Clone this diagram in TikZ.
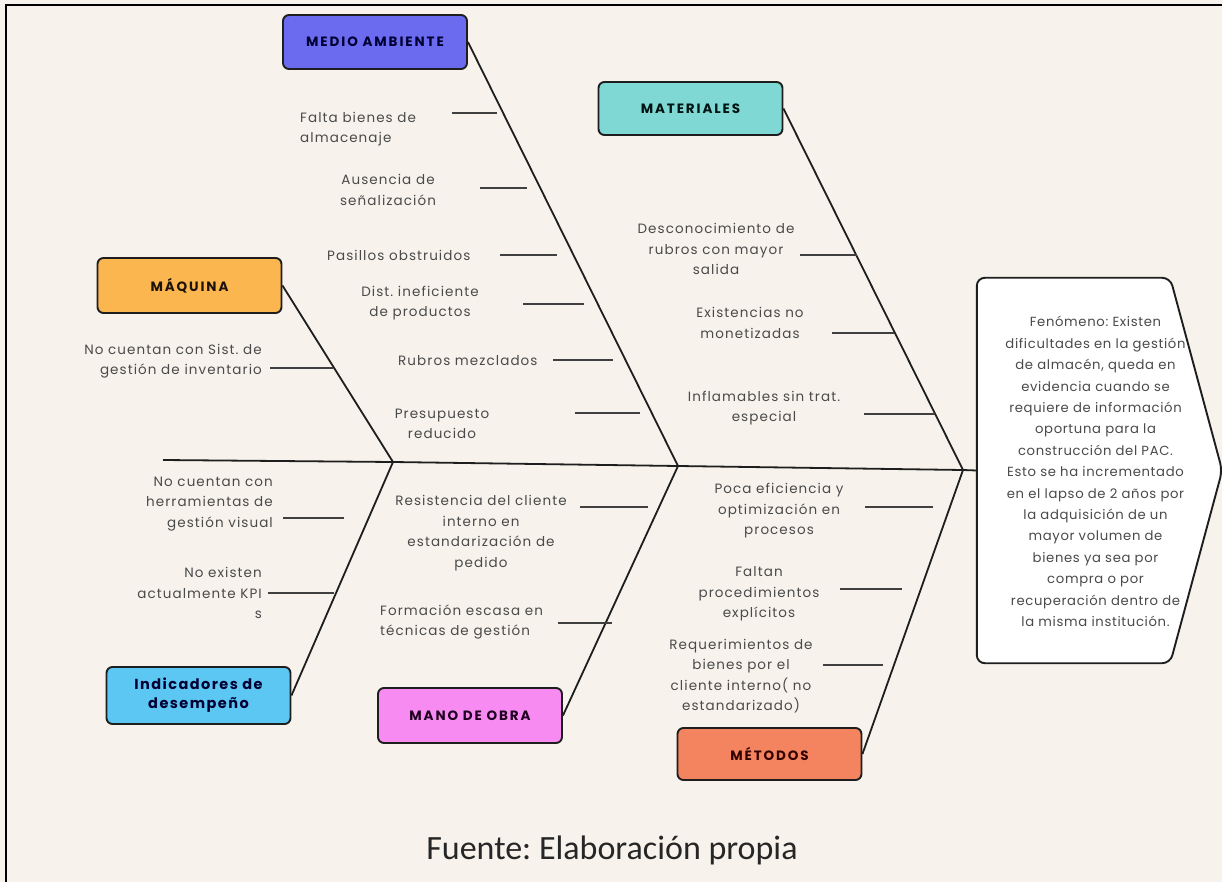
\documentclass[tikz,border=0pt]{standalone}
\usepackage{fontspec}
\setmainfont{Poppins}
\newfontfamily\headfont{Poppins}[LetterSpace=14]
\newfontfamily\indfont{Poppins}[LetterSpace=10]
\newfontfamily\causefont{Poppins}[LetterSpace=8]
\newfontfamily\fenfont{Poppins}[LetterSpace=5]
\newfontfamily\capfont{Carlito}
\usetikzlibrary{calc}
\frenchspacing

\definecolor{paper}{HTML}{F7F3EC}
\definecolor{ink}{HTML}{1E1E1E}
\definecolor{labelgray}{HTML}{4A4A4A}
\definecolor{cAmb}{HTML}{6B6BF0}
\definecolor{cMat}{HTML}{7FD8D3}
\definecolor{cMaq}{HTML}{FBB64F}
\definecolor{cInd}{HTML}{5CC7F2}
\definecolor{cMan}{HTML}{F78BF2}
\definecolor{cMet}{HTML}{F4845F}

\tikzset{
  catbox/.style={draw=ink, line width=1.9pt, rounded corners=6pt,
    minimum width=184pt, minimum height=54pt, inner sep=2pt, align=center,
    font=\headfont\fontsize{13.5}{15}\selectfont\bfseries},
  cause/.style={font=\causefont\fontsize{13.5}{20.5}\selectfont, text=labelgray,
    inner sep=0pt, align=center},
  rib/.style={draw=ink, line width=1.8pt},
  tick/.style={draw=ink!85, line width=1.8pt},
}

\begin{document}
\begin{tikzpicture}[x=1pt, y=-1pt]
\useasboundingbox (0,0) rectangle (1222,882);
\fill[paper] (0,0) rectangle (1222,882);
\draw[line width=2pt, black] (6,882) -- (6,5) -- (1222,5);

% category boxes
\node[catbox, fill=cAmb, text=black!80!blue] (ma)  at (375,42)    {MEDIO AMBIENTE};
\node[catbox, fill=cMat, text=black!85!teal, minimum height=53pt] (mat) at (690.5,108.5) {MATERIALES};
\node[catbox, fill=cMaq, text=black!85!brown, minimum height=55pt] (maq) at (189.5,285.5) {MÁQUINA};
\node[catbox, fill=cInd, text=black!80!blue, minimum height=57pt,
      font=\indfont\fontsize{14.5}{19}\selectfont\bfseries] (ind) at (198.5,695.5) {Indicadores de\\desempeño};
\node[catbox, fill=cMan, text=black!75!violet, minimum height=55pt] (mo) at (470,715.5) {MANO DE OBRA};
\node[catbox, fill=cMet, text=black!80!red, minimum height=52pt] (met) at (769.5,754) {MÉTODOS};

% effect box (arrow-shaped)
\node[minimum width=245pt, minimum height=385pt, inner sep=0pt] (fen) at (1099.5,470.5) {};
\draw[draw=ink, line width=1.9pt, fill=white, rounded corners=8pt]
  (fen.north west) -- ($(fen.north east)+(-52,0)$) -- (fen.east)
  -- ($(fen.south east)+(-52,0)$) -- (fen.south west) -- cycle;
\node[font=\fenfont\fontsize{13.2}{21.4}\selectfont, text=labelgray, inner sep=0pt] (fentxt)
  at ($(fen.center)+(-4,2)$)
  {\begin{tabular}{@{}c@{}}
   Fenómeno: Existen\\
   dificultades en la gestión\\
   de almacén, queda en\\
   evidencia cuando se\\
   requiere de información\\
   oportuna para la\\
   construcción del PAC.\\
   Esto se ha incrementado\\
   en el lapso de 2 años por\\
   la adquisición de un\\
   mayor volumen de\\
   bienes ya sea por\\
   compra o por\\
   recuperación dentro de\\
   la misma institución.
   \end{tabular}};

% spine
\coordinate (tail) at (163,460);
\coordinate (j1) at (393,462);
\coordinate (j2) at (678,466);
\coordinate (j3) at (963,470);
\draw[rib] (tail) -- (j1) -- (j2) -- (j3) -- (fen.west);

% main bones
\draw[rib] (maq.east) -- (j1);
\draw[rib] (ma.east)  -- (j2);
\draw[rib] (mat.east) -- (j3);
\draw[rib] (ind.east) -- (j1);
\draw[rib] (mo.east)  -- (j2);
\draw[rib] (met.east) -- (j3);

% causes: medio ambiente
\node[cause, anchor=west, align=left] (c1) at (300,129) {Falta  bienes de\\almacenaje};
\node[cause] (c2) at (388,190) {Ausencia de\\señalización};
\node[cause, anchor=west] (c3) at (327,255) {Pasillos obstruidos};
\node[cause] (c4) at (420,303) {Dist. ineficiente\\de productos};
\node[cause, anchor=west] (c5) at (398,361) {Rubros mezclados};
\node[cause] (c6) at (442,424) {Presupuesto\\reducido};
% causes: materiales
\node[cause] (c7) at (716,249) {Desconocimiento de\\rubros con mayor\\salida};
\node[cause] (c8) at (750,323) {Existencias no\\monetizadas};
\node[cause] (c9) at (764,408) {Inflamables sin trat.\\especial};
% causes: maquina
\node[cause, anchor=east, align=right] (c10) at (262,361) {No cuentan con Sist. de\\gestión de inventario};
% causes: indicadores
\node[cause, anchor=east, align=right] (c11) at (273,504) {No cuentan con\\herramientas de\\gestión visual};
\node[cause, anchor=east, align=right] (c12) at (262,593) {No existen\\actualmente KPI\\s};
% causes: mano de obra
\node[cause] (c13) at (481,533) {Resistencia  del cliente\\interno en\\estandarización de\\pedido};
\node[cause, anchor=west, align=left] (c14) at (380,622) {Formación escasa en\\técnicas de gestión};
% causes: metodos
\node[cause] (c15) at (779,511) {Poca eficiencia y\\optimización en\\procesos};
\node[cause] (c16) at (759,594) {Faltan\\procedimientos\\explícitos};
\node[cause] (c17) at (741,676) {Requerimientos de\\bienes por el\\cliente interno( no\\estandarizado)};

% small bones
\foreach \i/\xa/\xb/\yy in {1/452/497/113, 2/480/527/188, 3/500/557/255, 4/523/584/304,
    5/553/613/360, 6/575/640/413, 7/800/857/255, 8/832/894/333, 9/864/935/414,
    10/270/333/368, 11/283/344/518, 12/268/334/593, 13/580/648/507, 14/558/612/623,
    15/865/933/507, 16/840/902/589, 17/823/883/665}{
  \coordinate (s\i) at (\xa,\yy);
  \coordinate (e\i) at (\xb,\yy);
  \draw[tick] (s\i) -- (e\i);
}

% source note
\node[font=\capfont\fontsize{34}{38}\selectfont, text=black!85] (src) at (612,850) {Fuente: Elaboración propia};
\end{tikzpicture}
\end{document}
